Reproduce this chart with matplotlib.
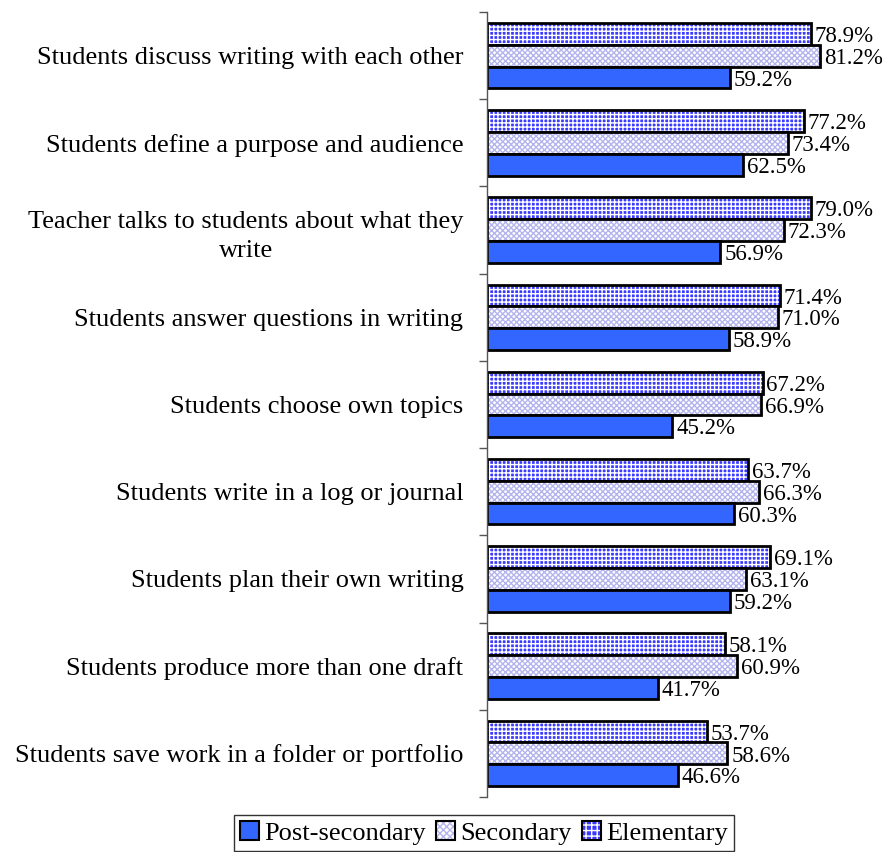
import numpy as np
import matplotlib.pyplot as plt
from matplotlib.patches import Patch
from matplotlib.legend_handler import HandlerTuple

plt.rcParams['font.family'] = ['Liberation Serif', 'DejaVu Serif']

categories = [
    "Students discuss writing with each other",
    "Students define a purpose and audience",
    "Teacher talks to students about what they\nwrite",
    "Students answer questions in writing",
    "Students choose own topics",
    "Students write in a log or journal",
    "Students plan their own writing",
    "Students produce more than one draft",
    "Students save work in a folder or portfolio",
]
elementary = [78.9, 77.2, 79.0, 71.4, 67.2, 63.7, 69.1, 58.1, 53.7]
secondary = [81.2, 73.4, 72.3, 71.0, 66.9, 66.3, 63.1, 60.9, 58.6]
post_secondary = [59.2, 62.5, 56.9, 58.9, 45.2, 60.3, 59.2, 41.7, 46.6]

ELEM_COLOR = '#3b3bff'
SEC_HATCH = '#b4b4ee'
POST_COLOR = '#3366ff'

fig = plt.figure(figsize=(8.83, 8.52), dpi=100)
ax = fig.add_axes([487 / 883, 1 - 797 / 852, 361 / 883, 785 / 852])

y = np.arange(len(categories))
h = 0.25

# Elementary: blue with white grid
ax.barh(y - h, elementary, height=h, color=ELEM_COLOR, edgecolor='white', hatch='++++', linewidth=0)
ax.barh(y - h, elementary, height=h, fill=False, edgecolor='black', linewidth=2)
# Secondary: white with light blue dots
ax.barh(y, secondary, height=h, color='white', edgecolor=SEC_HATCH, hatch='xxxxxx', linewidth=0)
ax.barh(y, secondary, height=h, fill=False, edgecolor='black', linewidth=2)
# Post-secondary: solid blue
ax.barh(y + h, post_secondary, height=h, color=POST_COLOR, edgecolor='black', linewidth=2)

for offset, vals in [(-h, elementary), (0, secondary), (h, post_secondary)]:
    for i, v in enumerate(vals):
        ax.text(v + 0.9, i + offset + 0.03, f"{v:.1f}%", va='center', ha='left', fontsize=16.5)

ax.set_xlim(0, 88)
ax.set_ylim(len(categories) - 0.5, -0.5)
ax.set_xticks([])

ax.set_yticks(y)
ax.set_yticklabels(categories, fontsize=19)
for lbl in ax.get_yticklabels():
    lbl.set_multialignment('center')
    lbl.set_linespacing(1.45)
ax.tick_params(axis='y', length=0, pad=17)
ax.set_yticks(np.arange(len(categories) + 1) - 0.5, minor=True)
ax.tick_params(axis='y', which='minor', length=6, width=1, color='#555555')

for s in ['top', 'right', 'bottom']:
    ax.spines[s].set_visible(False)
ax.spines['left'].set_color('#555555')
ax.spines['left'].set_linewidth(1)

border = dict(fill=False, edgecolor='black', linewidth=1.5)
handles = [
    Patch(facecolor=POST_COLOR, edgecolor='black', linewidth=1.5),
    (Patch(facecolor='white', edgecolor=SEC_HATCH, hatch='xxxxx', linewidth=0), Patch(**border)),
    (Patch(facecolor=ELEM_COLOR, edgecolor='white', hatch='+++', linewidth=0), Patch(**border)),
]
labels = ['Post-secondary', 'Secondary', 'Elementary']
leg = fig.legend(handles, labels, loc='center', bbox_to_anchor=(484 / 883, 1 - 833 / 852), ncol=3,
                 fontsize=19, frameon=True, fancybox=False, edgecolor='black', handlelength=0.7,
                 handleheight=0.7, handletextpad=0.2, columnspacing=0.4, borderpad=0.25, borderaxespad=0,
                 handler_map={tuple: HandlerTuple(ndivide=1, pad=0)})
leg.get_frame().set_linewidth(1)

fig.savefig('out.png', dpi=100)
